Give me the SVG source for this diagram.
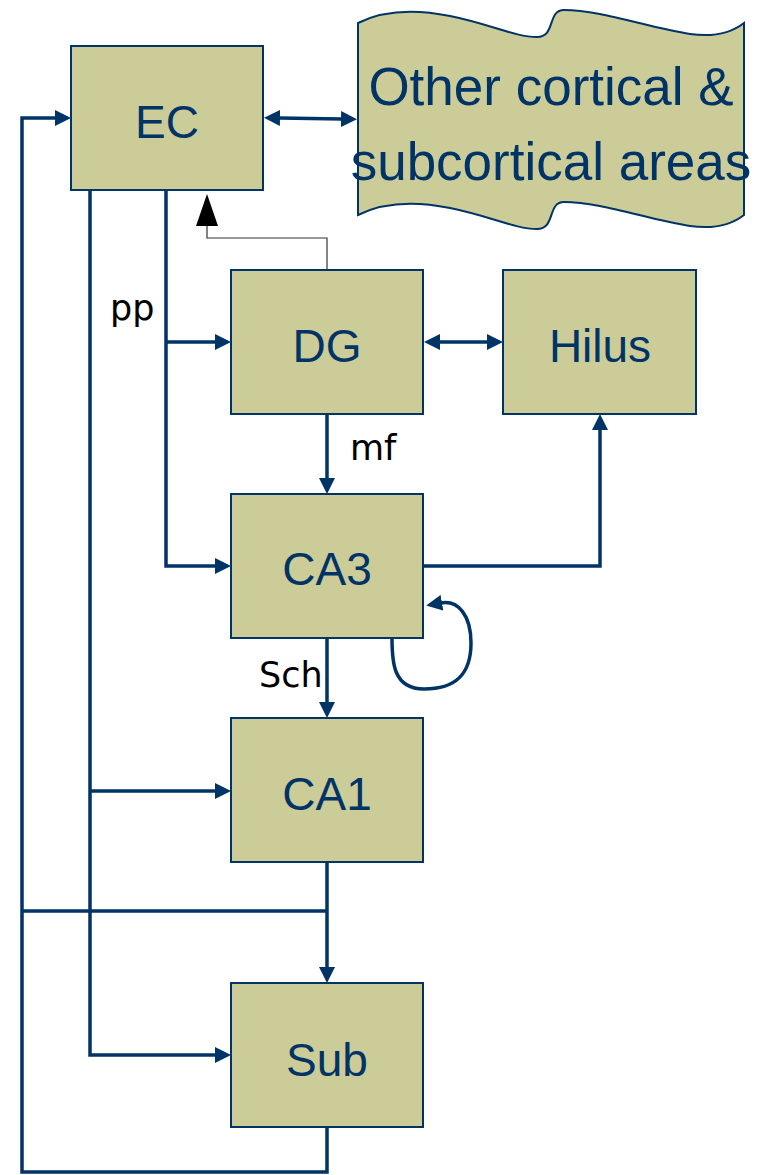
<svg xmlns="http://www.w3.org/2000/svg" width="765" height="1175" viewBox="0 0 765 1175">
<style>
.box{fill:#cccc99;stroke:#003366;stroke-width:2}
.lbl{font-family:"Liberation Sans",Arial,sans-serif;font-size:46px;fill:#003366;text-anchor:middle}
.big{font-family:"Liberation Sans",Arial,sans-serif;font-size:53px;fill:#003366;text-anchor:middle}
.edge{font-family:"DejaVu Sans",sans-serif;font-size:35px;fill:#000}
.c{fill:none;stroke:#003366;stroke-width:3.5}
</style>
<defs>
<marker id="a" markerUnits="userSpaceOnUse" markerWidth="16" markerHeight="16" viewBox="0 0 16 16" refX="1" refY="8" orient="auto-start-reverse">
<path d="M0,0 L16,8 L0,16 z" fill="#003366"/>
</marker>
<marker id="b" markerUnits="userSpaceOnUse" markerWidth="32" markerHeight="22" viewBox="0 0 32 22" refX="1" refY="11" orient="auto">
<path d="M0,0 L32,11 L0,22 z" fill="#000"/>
</marker>
</defs>
<g id="connectors">
<path class="c" d="M327,1127 V1172 H22 V118 H56" marker-end="url(#a)"/>
<path class="c" d="M327,862 V968" marker-end="url(#a)"/>
<path class="c" d="M327,911 H22"/>
<path class="c" d="M90,190 V1055 H216" marker-end="url(#a)"/>
<path class="c" d="M90,791 H216" marker-end="url(#a)"/>
<path class="c" d="M166,190 V566 H216" marker-end="url(#a)"/>
<path class="c" d="M166,342 H216" marker-end="url(#a)"/>
<path class="c" d="M327,414 V479" marker-end="url(#a)"/>
<path class="c" d="M327,638 V703" marker-end="url(#a)"/>
<path class="c" d="M423,566 H600 V429" marker-end="url(#a)"/>
<path class="c" d="M439,342 H488" stroke-width="3" marker-start="url(#a)" marker-end="url(#a)"/>
<path class="c" d="M279,118 L342,119" stroke-width="1.8" marker-start="url(#a)" marker-end="url(#a)"/>
<path class="c" d="M392,638 C392,662 393,689 424,689 C455,689 471,675 471,643 C471,615 458,600 441,603" marker-end="url(#a)"/>
<path d="M327,270 V238 H207 V225" fill="none" stroke="#333" stroke-width="1.2" marker-end="url(#b)"/>
<text class="edge" x="110" y="320">pp</text>
<text class="edge" x="350" y="460">mf</text>
<text class="edge" x="259" y="687">Sch</text>
</g>
<g id="EC">
<rect class="box" x="71" y="46" width="192" height="144"/>
<text class="lbl" x="167" y="138">EC</text>
</g>
<g id="Other">
<path class="box" d="M358,23 C380,12 410,8 450,16 C490,24 515,37 537,37 C556,37 547,10 564,10 C600,10 650,28 690,34 C718,38 735,30 744,23 V215 C735,222 718,230 690,226 C650,220 600,202 564,202 C547,202 556,229 537,229 C515,229 490,216 450,208 C410,200 380,204 358,215 Z"/>
<text class="big" x="551" y="105">Other cortical &amp;</text>
<text class="big" x="551" y="180">subcortical areas</text>
</g>
<g id="DG">
<rect class="box" x="231" y="270" width="192" height="144"/>
<text class="lbl" x="327" y="362">DG</text>
</g>
<g id="Hilus">
<rect class="box" x="503" y="270" width="193" height="144"/>
<text class="lbl" x="600" y="362">Hilus</text>
</g>
<g id="CA3">
<rect class="box" x="231" y="494" width="192" height="144"/>
<text class="lbl" x="327" y="585">CA3</text>
</g>
<g id="CA1">
<rect class="box" x="231" y="718" width="192" height="144"/>
<text class="lbl" x="327" y="810">CA1</text>
</g>
<g id="Sub">
<rect class="box" x="231" y="983" width="192" height="144"/>
<text class="lbl" x="327" y="1076">Sub</text>
</g>
</svg>
